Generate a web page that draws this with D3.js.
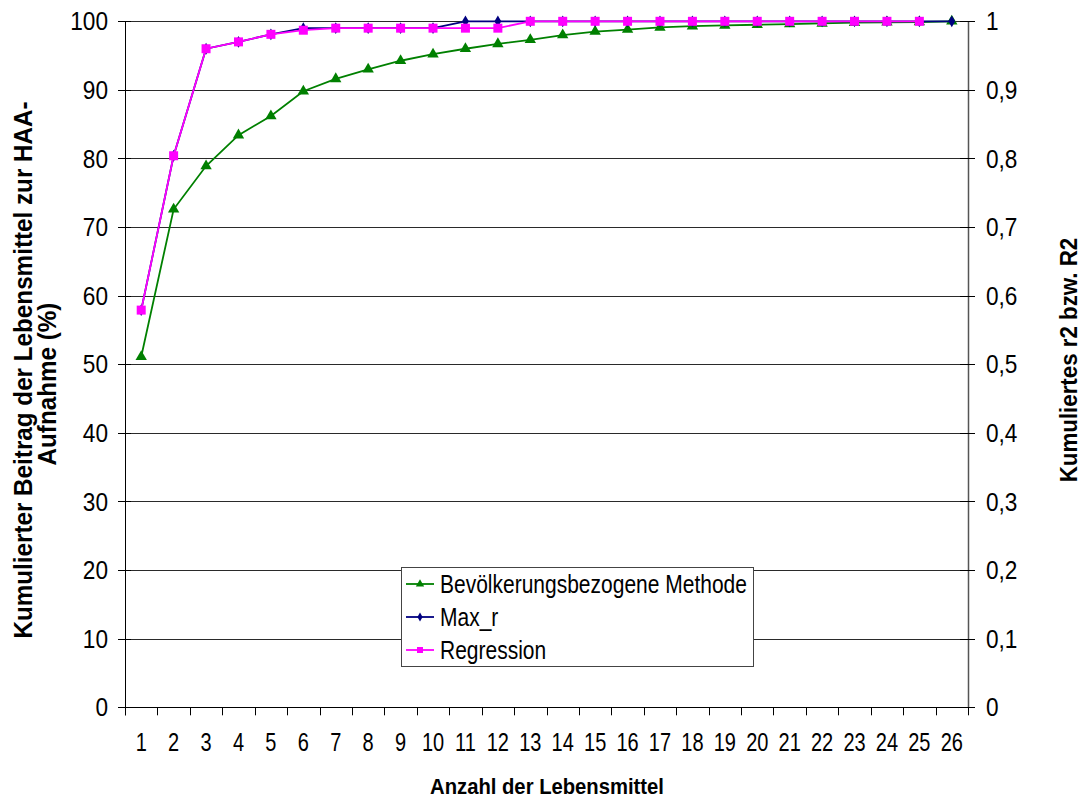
<!DOCTYPE html>
<html><head><meta charset="utf-8">
<script src="https://cdn.jsdelivr.net/npm/d3@7"></script>
<style>body{margin:0;background:#fff}svg{display:block}text{font-family:"Liberation Sans",Arial,sans-serif;fill:#000}</style>
</head><body>
<script>
const categories = d3.range(1, 27).map(String);
const bevoelkerung = [51.1,72.6,78.9,83.4,86.2,89.8,91.6,93.0,94.25,95.2,96.0,96.7,97.3,98.0,98.5,98.8,99.1,99.3,99.4,99.5,99.6,99.7,99.8,99.85,99.9,100];
const maxR = [0.579,0.804,0.960,0.970,0.981,0.99,0.99,0.99,0.99,0.99,1,1,1,1,1,1,1,1,1,1,1,1,1,1,1,1];
const regression = [0.579,0.804,0.960,0.970,0.981,0.987,0.99,0.99,0.99,0.99,0.99,0.99,1,1,1,1,1,1,1,1,1,1,1,1,1];
const leftTicks = [0,10,20,30,40,50,60,70,80,90,100];
const rightTicks = [0,0.1,0.2,0.3,0.4,0.5,0.6,0.7,0.8,0.9,1];
const seriesNames = ["Bevölkerungsbezogene Methode","Max_r","Regression"];

const W = 1084, H = 800;
const L = 125, R = 968, T = 21.3, B = 707.3;
const svg = d3.select("body").append("svg").attr("width", W).attr("height", H);

const x = d3.scaleBand().domain(categories).range([L, R]);
const yL = d3.scaleLinear().domain([0, 100]).range([B, T]);
const yR = d3.scaleLinear().domain([0, 1]).range([B, T]);
const cx = d => x(d) + x.bandwidth() / 2;

function stext(g, x0, y0, str, size, sx, anchor, weight, rot) {
  const gg = g.append("g").attr("transform", `translate(${x0},${y0})` + (rot ? ` rotate(${rot})` : "") + ` scale(${sx},1)`);
  gg.append("text").attr("text-anchor", anchor).attr("font-size", size).attr("font-weight", weight || "normal").text(str);
  return gg;
}

// gridlines
svg.append("g").selectAll("line").data(leftTicks.filter(d => d > 0)).join("line")
  .attr("x1", L).attr("x2", R).attr("y1", d => Math.round(yL(d)) + 0.5).attr("y2", d => Math.round(yL(d)) + 0.5)
  .attr("stroke", "#2a2a2a").attr("stroke-width", 1);

// left axis
const la = svg.append("g");
la.append("line").attr("x1", L + 0.5).attr("x2", L + 0.5).attr("y1", T).attr("y2", B + 8).attr("stroke", "#000");
la.selectAll("line.t").data(leftTicks).join("line").attr("class", "t")
  .attr("x1", L - 7).attr("x2", L + 6).attr("y1", d => Math.round(yL(d)) + 0.5).attr("y2", d => Math.round(yL(d)) + 0.5).attr("stroke", "#000");
leftTicks.forEach(d => stext(la, 108, yL(d) + 9, String(d), 26, 0.87, "end"));

// right axis
const ra = svg.append("g");
ra.append("line").attr("x1", R + 0.5).attr("x2", R + 0.5).attr("y1", T).attr("y2", B).attr("stroke", "#555").attr("stroke-width", 1.5);
ra.selectAll("line.t").data(rightTicks).join("line").attr("class", "t")
  .attr("x1", R - 8).attr("x2", R + 7).attr("y1", d => Math.round(yR(d)) + 0.5).attr("y2", d => Math.round(yR(d)) + 0.5).attr("stroke", "#000");
rightTicks.forEach(d => stext(ra, 986, yR(d) + 9, String(d).replace(".", ","), 26, 0.87, "start"));

// bottom axis
const ba = svg.append("g");
ba.append("line").attr("x1", L).attr("x2", R + 7).attr("y1", Math.round(B) + 0.5).attr("y2", Math.round(B) + 0.5).attr("stroke", "#000");
const bounds = categories.map(d => x(d)).concat([R]);
ba.selectAll("line.t").data(bounds).join("line").attr("class", "t")
  .attr("x1", d => Math.round(d) + 0.5).attr("x2", d => Math.round(d) + 0.5).attr("y1", B).attr("y2", B + 8).attr("stroke", "#000");
categories.forEach(d => stext(ba, cx(d), 751, d, 25, 0.8, "middle"));

// axis titles
stext(svg, 547, 794, "Anzahl der Lebensmittel", 22.5, 0.9, "middle", "bold");
stext(svg, 32, 370, "Kumulierter Beitrag der Lebensmittel zur HAA-", 25, 0.97, "middle", "bold", -90);
stext(svg, 56, 384, "Aufnahme (%)", 25, 0.97, "middle", "bold", -90);
stext(svg, 1077, 360, "Kumuliertes r2 bzw. R2", 24, 0.93, "middle", "bold", -90);

// series
const green = "#008000", navy = "#000080", pink = "#FF00FF";
const tri = d3.symbol().type(d3.symbolTriangle).size(56);
const dia = d3.symbol().type(d3.symbolDiamond).size(40);
const sq = d3.symbol().type(d3.symbolSquare).size(81);

function drawSeries(vals, ys, color, sym) {
  const g = svg.append("g");
  const line = d3.line().x((d, i) => cx(categories[i])).y(d => ys(d));
  g.append("path").attr("d", line(vals)).attr("fill", "none").attr("stroke", color).attr("stroke-width", 1.8);
  g.selectAll("path.m").data(vals).join("path").attr("class", "m")
    .attr("transform", (d, i) => `translate(${cx(categories[i])},${ys(d)})`).attr("d", sym).attr("fill", color);
}
drawSeries(bevoelkerung, yL, green, tri);
drawSeries(maxR, yR, navy, dia);
drawSeries(regression, yR, pink, sq);

// legend
const lg = svg.append("g");
lg.append("rect").attr("x", 401.5).attr("y", 567.5).attr("width", 352).attr("height", 99).attr("fill", "#fff").attr("stroke", "#444").attr("stroke-width", 1);
const legSyms = [d3.symbol().type(d3.symbolTriangle).size(30), d3.symbol().type(d3.symbolDiamond).size(24), d3.symbol().type(d3.symbolSquare).size(36)];
const legColors = [green, navy, pink];
const legY = [584, 617, 650];
seriesNames.forEach((n, i) => {
  lg.append("line").attr("x1", 406).attr("x2", 434).attr("y1", legY[i]).attr("y2", legY[i]).attr("stroke", legColors[i]).attr("stroke-width", 1.8);
  lg.append("path").attr("transform", `translate(420,${legY[i]})`).attr("d", legSyms[i]).attr("fill", legColors[i]);
  stext(lg, 440, legY[i] + 9, n, 25, 0.84, "start");
});
</script>
</body></html>
